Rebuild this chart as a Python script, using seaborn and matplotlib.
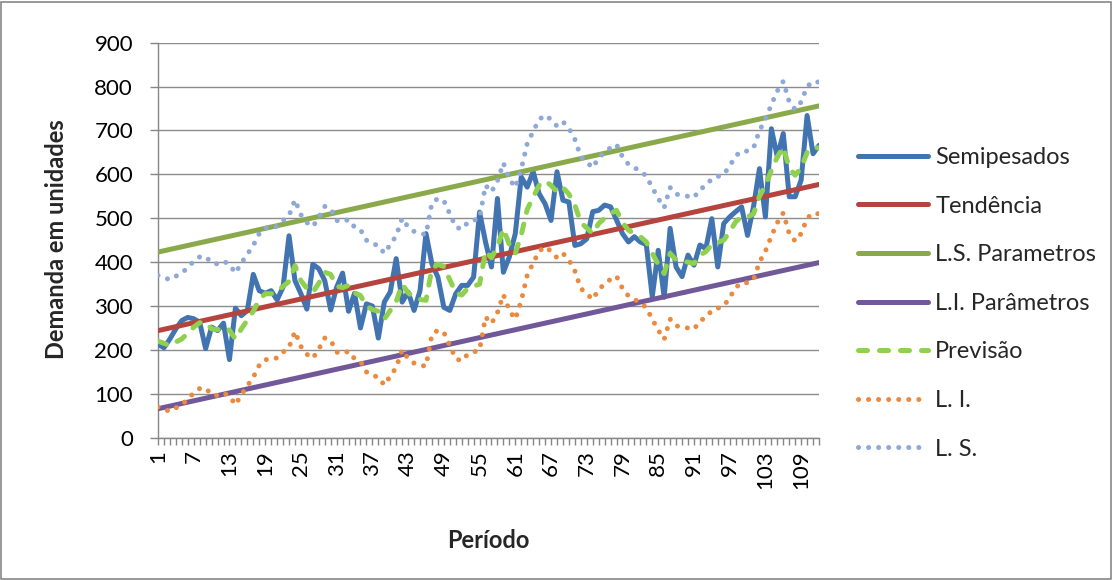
import matplotlib
matplotlib.use("Agg")
import matplotlib.pyplot as plt
from matplotlib.patches import Rectangle
import seaborn as sns

# ---------------- data ----------------
periodos = list(range(1, 113))
tick_labels = [str(p) for p in range(1, 113, 6)]

semipesados = [213, 205, 225, 248, 267, 274, 271, 263, 203, 252,
               244, 261, 178, 295, 278, 290, 372, 335, 329, 335,
               314, 343, 460, 358, 328, 293, 395, 385, 358, 291,
               343, 375, 288, 329, 250, 305, 300, 227, 309, 332,
               408, 309, 332, 290, 335, 465, 396, 366, 297, 290,
               328, 347, 347, 366, 514, 446, 389, 545, 377, 412,
               465, 594, 571, 606, 556, 533, 495, 606, 541, 537,
               438, 442, 453, 515, 518, 530, 526, 496, 465, 446,
               458, 446, 440, 321, 427, 320, 477, 389, 367, 416,
               393, 439, 431, 499, 389, 488, 503, 515, 526, 461,
               526, 613, 503, 704, 640, 693, 549, 549, 587, 734,
               647, 666]

tendencia = [244, 247, 250, 253, 256, 259, 262, 265, 268, 271,
             274, 277, 280, 283, 286, 289, 292, 295, 298, 301,
             304, 307, 310, 313, 316, 319, 322, 325, 328, 331,
             334, 337, 340, 343, 346, 349, 352, 355, 358, 361,
             364, 367, 370, 373, 376, 379, 382, 385, 388, 391,
             394, 397, 400, 403, 406, 409, 412, 415, 418, 421,
             424, 427, 430, 433, 436, 439, 442, 445, 448, 451,
             454, 457, 460, 463, 466, 469, 472, 475, 478, 481,
             484, 487, 490, 493, 496, 499, 502, 505, 508, 511,
             514, 517, 520, 523, 526, 529, 532, 535, 538, 541,
             544, 547, 550, 553, 556, 559, 562, 565, 568, 571,
             574, 577]

ls_parametros = [423, 426, 429, 432, 435, 438, 441, 444, 447, 450,
                 453, 456, 459, 462, 465, 468, 471, 474, 477, 480,
                 483, 486, 489, 492, 495, 498, 501, 504, 507, 510,
                 513, 516, 519, 522, 525, 528, 531, 534, 537, 540,
                 543, 546, 549, 552, 555, 558, 561, 564, 567, 570,
                 573, 576, 579, 582, 585, 588, 591, 594, 597, 600,
                 603, 606, 609, 612, 615, 618, 621, 624, 627, 630,
                 633, 636, 639, 642, 645, 648, 651, 654, 657, 660,
                 663, 666, 669, 672, 675, 678, 681, 684, 687, 690,
                 693, 696, 699, 702, 705, 708, 711, 714, 717, 720,
                 723, 726, 729, 732, 735, 738, 741, 744, 747, 750,
                 753, 756]

li_parametros = [66, 69, 72, 75, 78, 81, 84, 87, 90, 93,
                 96, 99, 102, 105, 108, 111, 114, 117, 120, 123,
                 126, 129, 132, 135, 138, 141, 144, 147, 150, 153,
                 156, 159, 162, 165, 168, 171, 174, 177, 180, 183,
                 186, 189, 192, 195, 198, 201, 204, 207, 210, 213,
                 216, 219, 222, 225, 228, 231, 234, 237, 240, 243,
                 246, 249, 252, 255, 258, 261, 264, 267, 270, 273,
                 276, 279, 282, 285, 288, 291, 294, 297, 300, 303,
                 306, 309, 312, 315, 318, 321, 324, 327, 330, 333,
                 336, 339, 342, 345, 348, 351, 354, 357, 360, 363,
                 366, 369, 372, 375, 378, 381, 384, 387, 390, 393,
                 396, 399]

previsao = [220, 215, 210, 218, 225, 238, 252, 262, 263, 248,
            246, 252, 245, 225, 248, 268, 288, 315, 328, 328,
            332, 345, 356, 392, 358, 340, 331, 352, 377, 372,
            345, 342, 347, 330, 324, 300, 292, 288, 270, 290,
            310, 350, 330, 320, 315, 313, 385, 395, 390, 360,
            330, 325, 340, 345, 350, 425, 410, 435, 476, 440,
            420, 462, 520, 548, 575, 585, 575, 560, 570, 555,
            530, 490, 478, 465, 488, 500, 511, 518, 490, 473,
            465, 458, 446, 420, 395, 374, 420, 405, 402, 400,
            397, 416, 424, 440, 445, 450, 469, 492, 503, 503,
            510, 550, 575, 609, 640, 662, 615, 598, 615, 650,
            662, 660]

li = [70, 65, 60, 68, 75, 88, 102, 112, 113, 98,
      96, 102, 95, 75, 98, 118, 138, 165, 178, 178,
      182, 195, 206, 242, 208, 190, 181, 202, 227, 222,
      195, 192, 197, 180, 174, 150, 142, 138, 120, 140,
      160, 200, 180, 170, 165, 163, 235, 245, 240, 210,
      180, 175, 190, 195, 200, 275, 260, 285, 326, 290,
      270, 312, 370, 398, 425, 435, 425, 410, 420, 405,
      380, 340, 328, 315, 338, 350, 361, 368, 340, 323,
      315, 308, 296, 270, 245, 224, 270, 255, 252, 250,
      247, 266, 274, 290, 295, 300, 319, 342, 353, 353,
      360, 400, 425, 459, 490, 512, 465, 448, 465, 500,
      512, 510]

ls = [370, 365, 360, 368, 375, 388, 402, 412, 413, 398,
      396, 402, 395, 375, 398, 418, 438, 465, 478, 478,
      482, 495, 506, 542, 508, 490, 481, 502, 527, 522,
      495, 492, 497, 480, 474, 450, 442, 438, 420, 440,
      460, 500, 480, 470, 465, 463, 535, 545, 540, 510,
      480, 475, 490, 495, 500, 575, 560, 585, 626, 590,
      570, 612, 670, 698, 725, 735, 725, 710, 720, 705,
      680, 640, 628, 615, 638, 650, 661, 668, 640, 623,
      615, 608, 596, 570, 545, 524, 570, 555, 552, 550,
      547, 566, 574, 590, 595, 600, 619, 642, 653, 653,
      660, 700, 725, 759, 790, 812, 765, 748, 765, 800,
      812, 810]

# ---------------- style ----------------
sns.set_style("white")
plt.rcParams['font.family'] = ['Lato', 'DejaVu Sans']

fig = plt.figure(figsize=(11.13, 5.8), dpi=100)
ax = fig.add_axes([158 / 1113, 1 - 437.7 / 580, 661 / 1113, 395 / 580])

LW = 3.6
series = [
    ("Semipesados", semipesados, "#4174B0", "-"),
    ("Tendência", tendencia, "#B5443F", "-"),
    ("L.S. Parametros", ls_parametros, "#8AA94B", "-"),
    ("L.I. Parâmetros", li_parametros, "#715899", "-"),
    ("Previsão", previsao, "#8FD14F", (0, (1.8, 2.4))),
    ("L. I.", li, "#EB8A3F", (0, (0.01, 2.0))),
    ("L. S.", ls, "#8EA9D5", (0, (0.01, 2.0))),
]

for i, (name, vals, col, style) in enumerate(series):
    sns.lineplot(x=periodos, y=vals, ax=ax, color=col, linewidth=LW,
                 linestyle=style, dash_capstyle="round",
                 solid_capstyle="round", label=name, zorder=3 + i)

ax.set_xlim(1, 112)
ax.set_ylim(0, 900)
ax.set_yticks(range(0, 901, 100))
ax.set_xticks(periodos)
ax.set_xticklabels([str(p) if str(p) in tick_labels else "" for p in periodos],
                   rotation=90, va="top", ha="center")
ax.tick_params(axis="x", length=5, width=1, color="#868686", pad=4,
               labelsize=16, labelcolor="black", direction="out", bottom=True)
ax.tick_params(axis="y", length=6, width=1, color="#868686", pad=12,
               labelsize=16, labelcolor="black", direction="out", left=True)
ax.yaxis.grid(True, color="#8C8C8C", linewidth=1.0, zorder=0)
ax.xaxis.grid(False)
ax.set_axisbelow(True)
for s in ["top", "right"]:
    ax.spines[s].set_visible(False)
for s in ["left", "bottom"]:
    ax.spines[s].set_color("#868686")
    ax.spines[s].set_linewidth(1.0)
ax.set_xlabel("")
ax.set_ylabel("")

fig.text(57 / 1113, 1 - 239 / 580, "Demanda em unidades", rotation=90,
         ha="center", va="center", fontsize=17, fontweight="bold")
fig.text(488 / 1113, 1 - 541 / 580, "Período", ha="center", va="center",
         fontsize=17, fontweight="bold")

handles, labels = ax.get_legend_handles_labels()
ax.legend(handles, labels, loc="upper left",
          bbox_to_anchor=(858 / 1113, 1 - 147 / 580),
          bbox_transform=fig.transFigure, frameon=False, fontsize=17,
          handlelength=2.97, handletextpad=0.3, labelspacing=1.17,
          borderpad=0, borderaxespad=0)

fig.patches.append(Rectangle((1 / 1113, 1 / 580), 1110 / 1113, 577 / 580,
                             transform=fig.transFigure, fill=False,
                             edgecolor="#868686", linewidth=1.2))

fig.savefig("out.png", dpi=100)
